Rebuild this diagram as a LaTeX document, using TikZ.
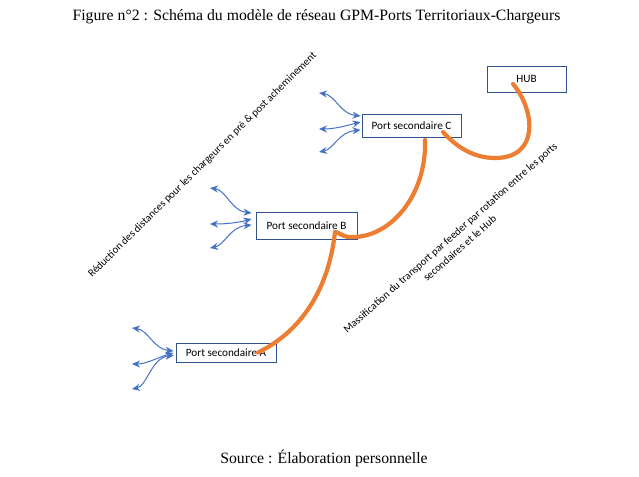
\documentclass[tikz,border=0pt]{standalone}
\usepackage{fontspec}
\setmainfont{Liberation Serif}
\newfontfamily\carl{Carlito}
\usetikzlibrary{arrows.meta}
\definecolor{boxline}{HTML}{2F528F}
\definecolor{feed}{HTML}{ED7D31}
\definecolor{arr}{HTML}{4472C4}
\tikzset{
  port/.style={draw=boxline, line width=0.9pt, fill=white, inner sep=0pt, font=\carl\fontsize{11.2}{13}\selectfont},
  feeder/.style={draw=feed, line width=4.2pt, line cap=round},
  fan/.style={draw=arr, line width=1pt, {Stealth[length=8pt,width=7pt]}-{Stealth[length=8pt,width=7pt]}},
  rlabel/.style={font=\carl\fontsize{10.7}{14.2}\selectfont, inner sep=0pt, align=center},
  caption/.style={font=\fontsize{15.75}{18}\selectfont, inner sep=0pt}
}
\begin{document}
\begin{tikzpicture}[x=1pt, y=-1pt]
\useasboundingbox (0,0) rectangle (639,476);
\fill[white] (0,0) rectangle (639,476);

\node[caption] (title) at (316.5,17) {Figure n°2 : Schéma du modèle de réseau GPM-Ports Territoriaux-Chargeurs};
\node[caption] (source) at (324,458) {Source : Élaboration personnelle};

\node[port, minimum width=79pt, minimum height=26pt] (hub) at (526.5,79) {HUB};
\node[port, minimum width=99pt, minimum height=23pt] (c) at (411.5,125.5) {Port secondaire C};
\node[port, minimum width=101pt, minimum height=27pt] (b) at (306.5,225.5) {Port secondaire B};
\node[port, minimum width=100pt, minimum height=19pt] (a) at (226,352.5) {Port secondaire A};

\draw[feeder] ([shift={(-13.5,5)}]hub.center) .. controls +(22,26) and +(45,0) .. (495,158)
  .. controls +(-25,0) and +(10,11) .. ([shift={(31.5,6.5)}]c.center);
\draw[feeder] ([shift={(13.5,14.5)}]c.center) .. controls +(2,55) and +(42,3) .. (348,237)
  .. controls +(-6,-1) and +(3,0) .. ([shift={(28.5,6.5)}]b.center);
\draw[feeder] ([shift={(28.5,6.5)}]b.center) .. controls +(-6,55) and +(45,-22) .. ([shift={(32,0)}]a.center);

% fans of port C
\coordinate (c1) at (319,93);
\coordinate (c2) at (319,129);
\coordinate (c3) at (319,152);
\draw[fan] (c1) .. controls +(16,2) and +(-20,-2) .. ([shift={(-1,-9.5)}]c.west);
\draw[fan] (c2) .. controls +(15,0) and +(-15,4) .. ([shift={(-1,-3.5)}]c.west);
\draw[fan] (c3) .. controls +(15,-3) and +(-22,2) .. ([shift={(-1,4.5)}]c.west);

% fans of port B
\coordinate (b1) at (210,188);
\coordinate (b2) at (210,224);
\coordinate (b3) at (210,248);
\draw[fan] (b1) .. controls +(16,2) and +(-20,-2) .. ([shift={(-4,-12.5)}]b.west);
\draw[fan] (b2) .. controls +(15,0) and +(-15,4) .. ([shift={(-4,-6.5)}]b.west);
\draw[fan] (b3) .. controls +(15,-3) and +(-22,2) .. ([shift={(-4,-0.5)}]b.west);

% fans of port A
\coordinate (a1) at (132,328);
\coordinate (a2) at (132,364);
\coordinate (a3) at (132,389);
\draw[fan] (a1) .. controls +(16,2) and +(-20,-2) .. ([shift={(-2,-1.5)}]a.west);
\draw[fan] (a2) .. controls +(15,0) and +(-15,4) .. ([shift={(-2,0.5)}]a.west);
\draw[fan] (a3) .. controls +(15,-3) and +(-22,2) .. ([shift={(-2,3)}]a.west);

% rotated labels
\node[rlabel, rotate=44.6] (lab1) at (202.5,165) {Réduction des distances pour les chargeurs en pré \& post acheminement};
\node[rlabel, rotate=41.5] (lab2) at (455,243) {Massification du transport par feeder par rotation entre les ports\\secondaires et le Hub};
\end{tikzpicture}
\end{document}
